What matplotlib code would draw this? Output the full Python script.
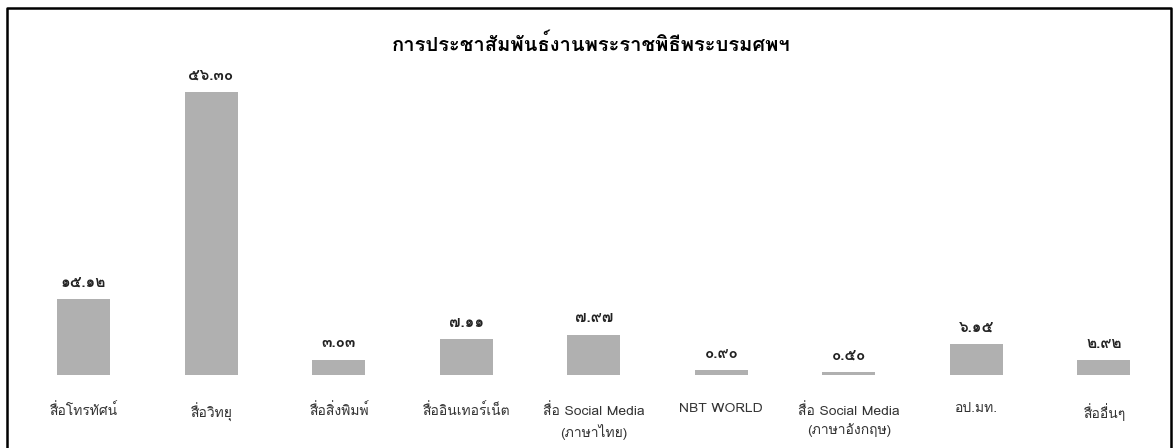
import matplotlib
matplotlib.use("Agg")
import matplotlib.pyplot as plt
from matplotlib import font_manager
from matplotlib.ft2font import FT2Font
from matplotlib.lines import Line2D

# data
categories = ["สื่อโทรทัศน์", "สื่อวิทยุ", "สื่อสิ่งพิมพ์", "สื่ออินเทอร์เน็ต",
              "สื่อ Social Media\n(ภาษาไทย)", "NBT WORLD",
              "สื่อ Social Media\n(ภาษาอังกฤษ)", "อป.มท.", "สื่ออื่นๆ"]
values = [15.12, 56.30, 3.03, 7.11, 7.97, 0.90, 0.50, 6.15, 2.92]
value_labels = ["๑๕.๑๒", "๕๖.๓๐", "๓.๐๓", "๗.๑๑", "๗.๙๗", "๐.๙๐", "๐.๕๐", "๖.๑๕", "๒.๙๒"]
title = "การประชาสัมพันธ์งานพระราชพิธีพระบรมศพฯ"


def find_thai_fonts():
    names = []
    for f in font_manager.fontManager.ttflist:
        try:
            cmap = FT2Font(f.fname).get_charmap()
        except Exception:
            continue
        if 0x0E01 in cmap and 0x0E51 in cmap and f.name not in names:
            names.append(f.name)
    return names

thai = find_thai_fonts()
plt.rcParams['font.family'] = thai + ['DejaVu Sans']

W, H = 1175, 448
fig = plt.figure(figsize=(W / 100, H / 100), dpi=100)

# axes placed in pixel terms
left, right = 19.7, 1167.7
bottom_px, top_px = 375, 60
ax = fig.add_axes([left / W, (H - bottom_px) / H, (right - left) / W, (bottom_px - top_px) / H])
scale = 283 / 56.30
ax.set_xlim(-0.5, len(categories) - 0.5)
ax.set_ylim(0, (bottom_px - top_px) / scale)

x = range(len(categories))
ax.bar(x, values, width=0.415, color='#b0b0b0', edgecolor='none')
for i, (v, lab) in enumerate(zip(values, value_labels)):
    ax.annotate(lab, (i, v), xytext=(0, 7), textcoords='offset points',
                ha='center', va='bottom', fontsize=11, fontweight='bold', color='#222222')

ax.set_xticks(list(x))
ax.set_xticklabels(categories, fontsize=10, color='#333333', linespacing=1.5)
ax.tick_params(axis='x', length=0, pad=20)
ax.set_yticks([])
for s in ax.spines.values():
    s.set_visible(False)

fig.text(0.503, 1 - 44 / H, title, ha='center', va='center', fontsize=14.5, fontweight='bold')

# outer frame (left, top, right)
xl, xr, yt = 7 / W, 1171 / W, 1 - 8 / H
fig.add_artist(Line2D([xl, xl, xr, xr], [0, yt, yt, 0], transform=fig.transFigure,
                      color='black', linewidth=1.8))

fig.savefig("out.png", dpi=100)
